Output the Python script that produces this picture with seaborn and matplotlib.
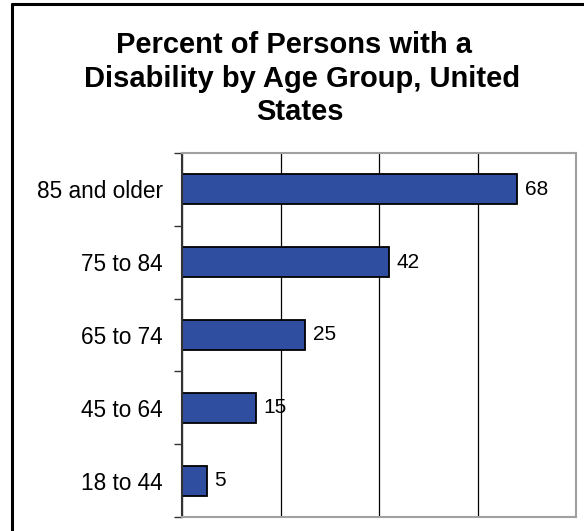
import matplotlib
matplotlib.use("Agg")
import matplotlib.pyplot as plt
import seaborn as sns
import pandas as pd
import numpy as np
from matplotlib.lines import Line2D

# data
age_groups = ["85 and older", "75 to 84", "65 to 74", "45 to 64", "18 to 44"]
percents = [68, 42, 25, 15, 5]
x_ticks = [0, 20, 40, 60, 80]

title_lines = ["Percent of Persons with a", "Disability by Age Group, United", "States"]

def main():
    sns.set_style("white")
    plt.rcParams["font.family"] = ["Liberation Sans", "DejaVu Sans"]

    df = pd.DataFrame({"age": age_groups, "pct": percents})

    fig = plt.figure(figsize=(5.84, 5.31), dpi=100)
    ax = fig.add_axes([182 / 584, 1 - 517 / 531, (576 - 182) / 584, (517 - 153) / 531])

    sns.barplot(data=df, x="pct", y="age", order=age_groups, orient="h",
                color="#304EA0", saturation=1, width=0.41,
                edgecolor="black", linewidth=1.3, ax=ax)

    ax.set_xlim(0, 80)
    ax.set_ylim(len(age_groups) - 0.5, -0.5)
    ax.set_xticks(x_ticks)
    ax.set_xticklabels([])
    ax.tick_params(axis="x", length=0)
    ax.xaxis.grid(True, color="black", linewidth=0.9)
    ax.set_axisbelow(True)
    ax.set_xlabel("")
    ax.set_ylabel("")

    # category labels centred, small ticks at the category boundaries
    ax.tick_params(axis="y", which="major", left=False, length=0, pad=14,
                   labelsize=16.3, labelcolor="black")
    ax.set_yticks(np.arange(-0.5, len(age_groups), 1.0), minor=True)
    ax.tick_params(axis="y", which="minor", left=True, length=5.5, width=1,
                   color="#333333", direction="out")

    for side in ["top", "right", "bottom"]:
        ax.spines[side].set_color("#a0a0a0")
        ax.spines[side].set_linewidth(1.5)
    ax.spines["left"].set_color("#333333")
    ax.spines["left"].set_linewidth(1.5)

    for i, v in enumerate(percents):
        ax.text(v + 1.6, i, str(v), va="center", ha="left", fontsize=15, color="black")

    # title, one line at a time like the reference
    title_x = [294, 302, 300]
    title_y = [53, 87, 120]
    for line, tx, ty in zip(title_lines, title_x, title_y):
        fig.text(tx / 584, 1 - ty / 531, line, ha="center", va="baseline",
                 fontsize=21, fontweight="bold", color="black")

    # outer frame (only left and top edges fall inside the picture)
    fig.add_artist(Line2D([12 / 584, 12 / 584], [0, 1 - 4 / 531], color="black", linewidth=2.2,
                          transform=fig.transFigure))
    fig.add_artist(Line2D([12 / 584, 1], [1 - 4 / 531, 1 - 4 / 531], color="black", linewidth=2.2,
                          transform=fig.transFigure))

    fig.savefig("out.png", dpi=100)

if __name__ == "__main__":
    main()
